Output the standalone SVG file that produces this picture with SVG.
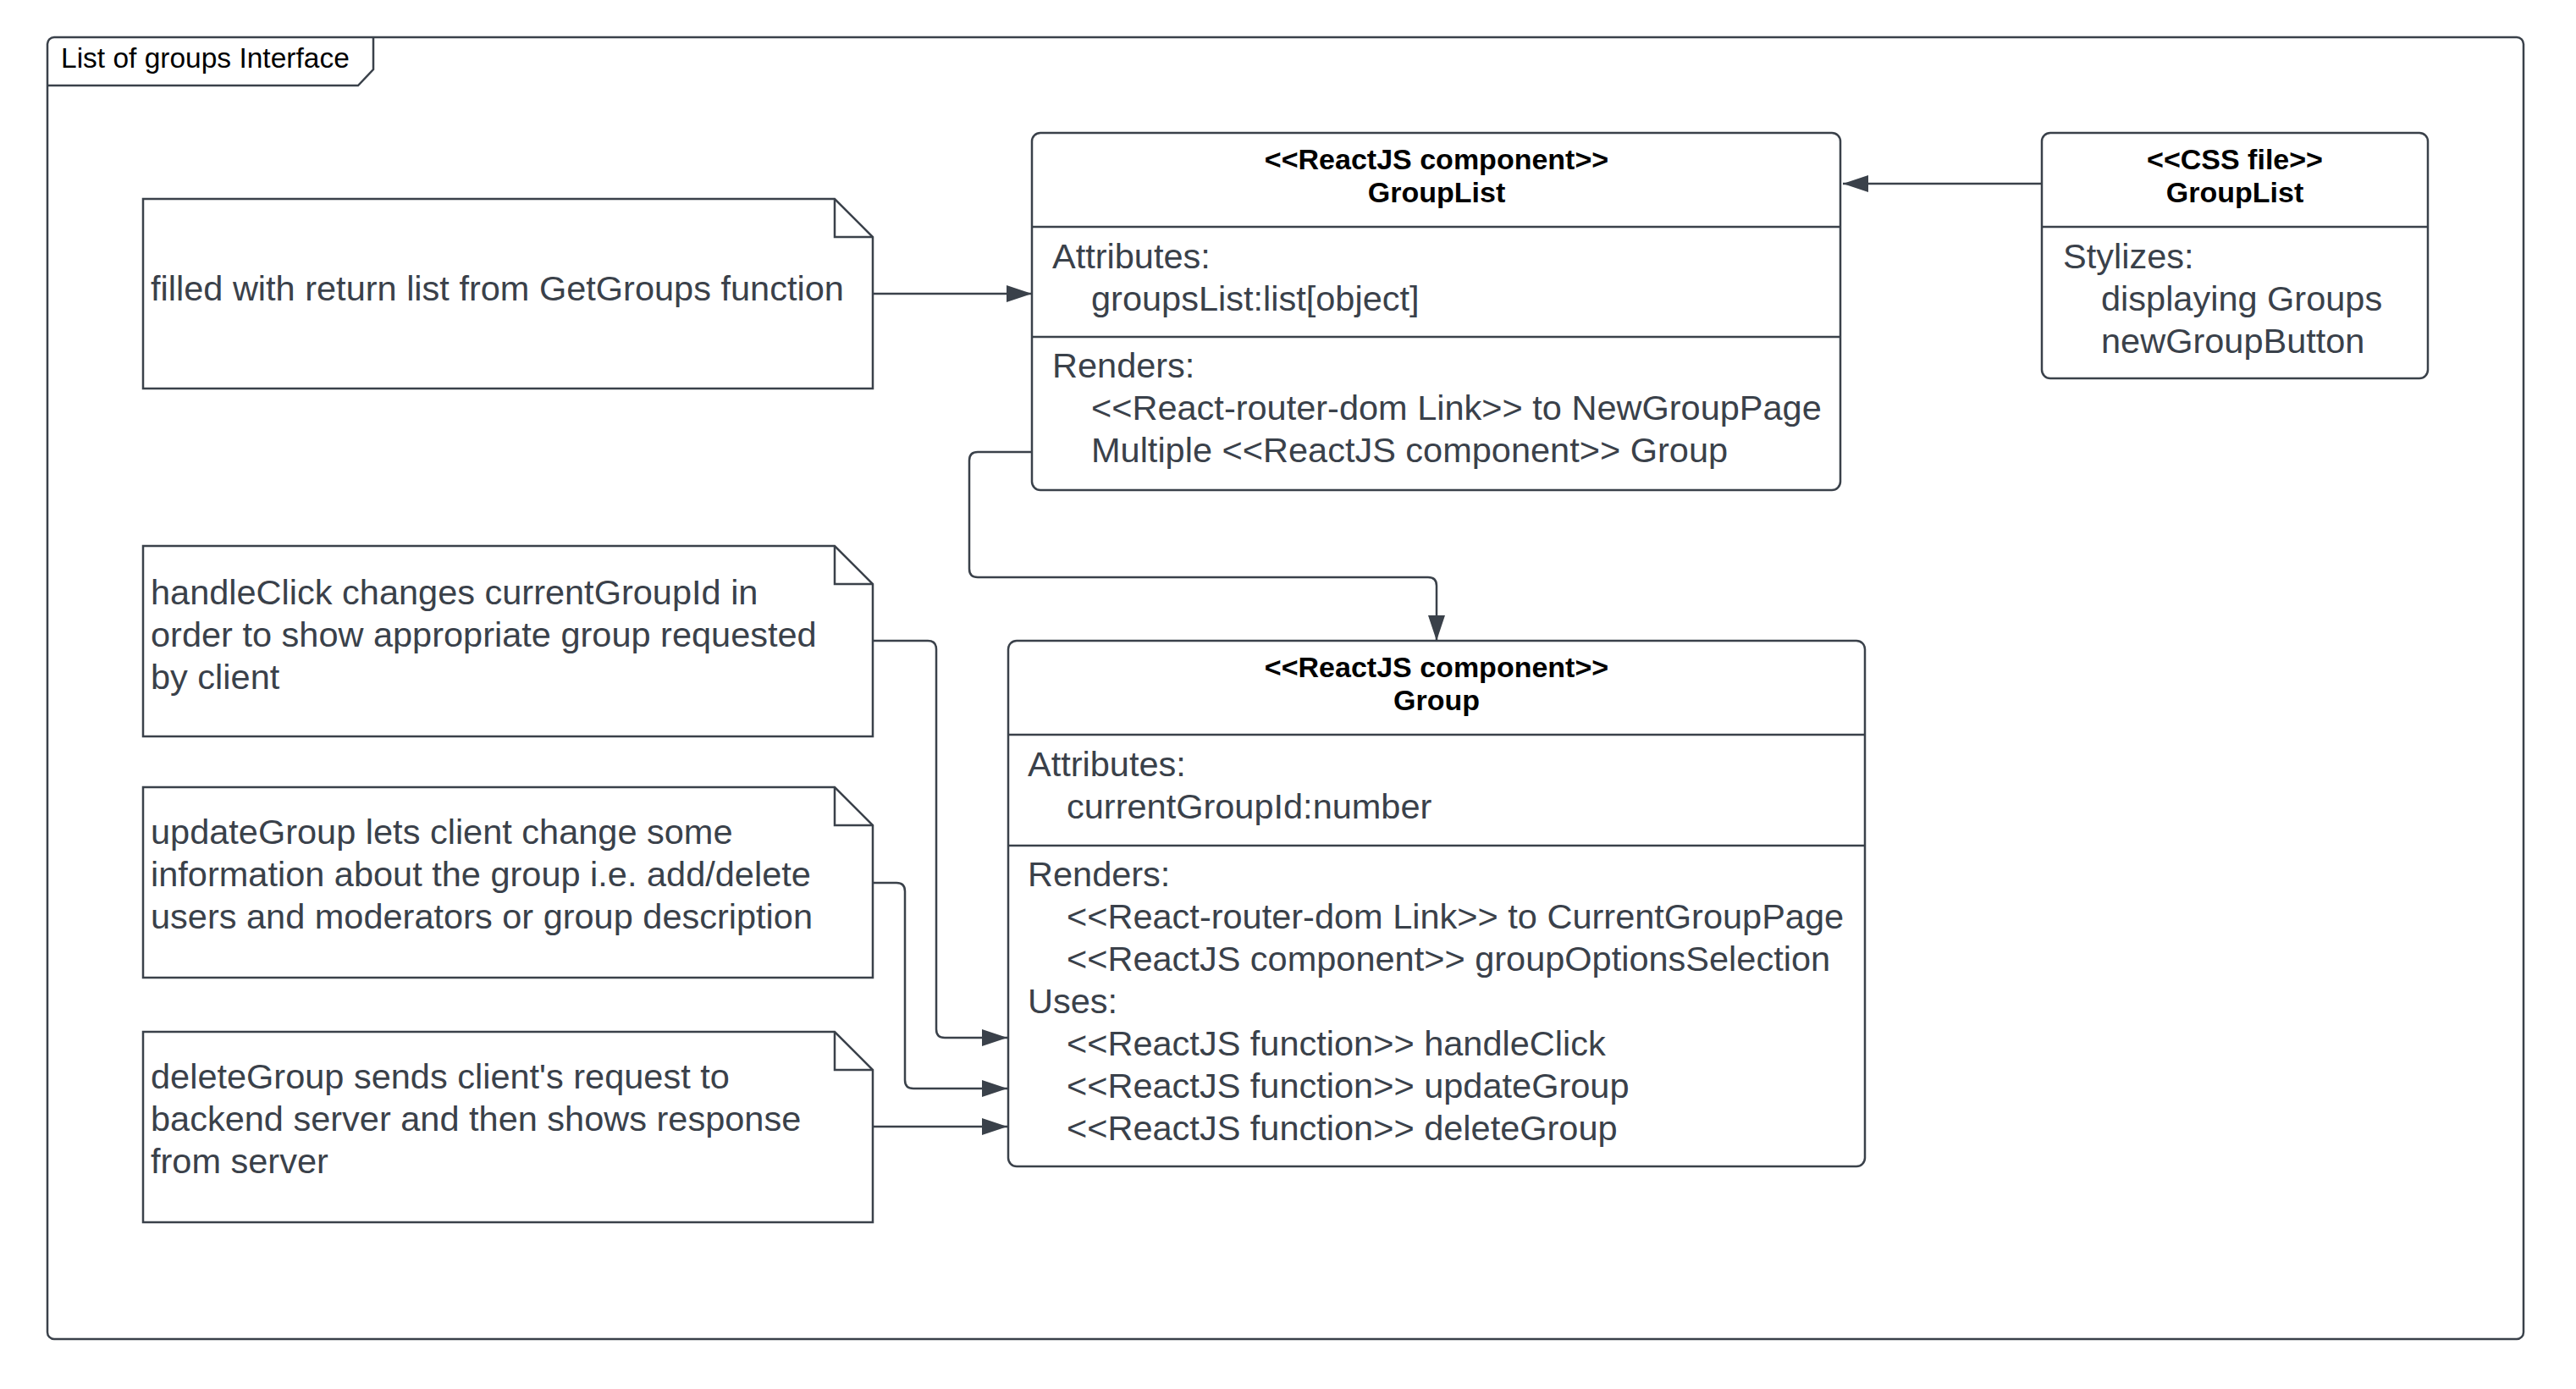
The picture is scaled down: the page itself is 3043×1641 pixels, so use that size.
<svg xmlns="http://www.w3.org/2000/svg" width="3043" height="1641" viewBox="0 0 3043 1641">
<style>
  .ln { fill: none; stroke: #3a414a; stroke-width: 2.5; }
  .box { fill: #ffffff; stroke: #3a414a; stroke-width: 2.5; }
  .hd { font-family: "Liberation Sans", Arial, sans-serif; font-size: 34px; font-weight: bold; fill: #000000; text-anchor: middle; }
  .tx { font-family: "Liberation Sans", Arial, sans-serif; font-size: 41.5px; fill: #3a414a; }
  .ttl { font-family: "Liberation Sans", Arial, sans-serif; font-size: 33.5px; fill: #000000; }
</style>
<defs>
  <marker id="arr" markerWidth="30" markerHeight="20" refX="30" refY="10" orient="auto" markerUnits="userSpaceOnUse">
    <path d="M0,0 L30,10 L0,20 Z" fill="#3a414a"/>
  </marker>
</defs>
<rect width="3043" height="1641" fill="#ffffff"/>

<g id="frame">
  <rect class="ln" x="56" y="44" width="2925" height="1538" rx="8"/>
  <path class="ln" d="M56,101 L423,101 L441,82 L441,44"/>
  <text class="ttl" x="72" y="80">List of groups Interface</text>
</g>

<g id="note-getgroups">
  <path class="box" d="M169,235 L986,235 L1031,280 L1031,459 L169,459 Z"/>
  <path class="ln" d="M986,235 L986,280 L1031,280"/>
  <text class="tx" x="178" y="355">filled with return list from GetGroups function</text>
</g>

<g id="note-handleclick">
  <path class="box" d="M169,645 L986,645 L1031,690 L1031,870 L169,870 Z"/>
  <path class="ln" d="M986,645 L986,690 L1031,690"/>
  <text class="tx" x="178" y="714">handleClick changes currentGroupId in</text>
  <text class="tx" x="178" y="764">order to show appropriate group requested</text>
  <text class="tx" x="178" y="814">by client</text>
</g>

<g id="note-updategroup">
  <path class="box" d="M169,930 L986,930 L1031,975 L1031,1155 L169,1155 Z"/>
  <path class="ln" d="M986,930 L986,975 L1031,975"/>
  <text class="tx" x="178" y="997">updateGroup lets client change some</text>
  <text class="tx" x="178" y="1047">information about the group i.e. add/delete</text>
  <text class="tx" x="178" y="1097">users and moderators or group description</text>
</g>

<g id="note-deletegroup">
  <path class="box" d="M169,1219 L986,1219 L1031,1264 L1031,1444 L169,1444 Z"/>
  <path class="ln" d="M986,1219 L986,1264 L1031,1264"/>
  <text class="tx" x="178" y="1286">deleteGroup sends client's request to</text>
  <text class="tx" x="178" y="1336">backend server and then shows response</text>
  <text class="tx" x="178" y="1386">from server</text>
</g>

<g id="class-grouplist">
  <rect class="box" x="1219" y="157" width="955" height="422" rx="10"/>
  <line class="ln" x1="1219" y1="268" x2="2174" y2="268"/>
  <line class="ln" x1="1219" y1="398" x2="2174" y2="398"/>
  <text class="hd" x="1697" y="200">&lt;&lt;ReactJS component&gt;&gt;</text>
  <text class="hd" x="1697" y="239">GroupList</text>
  <text class="tx" x="1243" y="317">Attributes:</text>
  <text class="tx" x="1289" y="367">groupsList:list[object]</text>
  <text class="tx" x="1243" y="446">Renders:</text>
  <text class="tx" x="1289" y="496">&lt;&lt;React-router-dom Link&gt;&gt; to NewGroupPage</text>
  <text class="tx" x="1289" y="546">Multiple &lt;&lt;ReactJS component&gt;&gt; Group</text>
</g>

<g id="class-css-grouplist">
  <rect class="box" x="2412" y="157" width="456" height="290" rx="10"/>
  <line class="ln" x1="2412" y1="268" x2="2868" y2="268"/>
  <text class="hd" x="2640" y="200">&lt;&lt;CSS file&gt;&gt;</text>
  <text class="hd" x="2640" y="239">GroupList</text>
  <text class="tx" x="2437" y="317">Stylizes:</text>
  <text class="tx" x="2482" y="367">displaying Groups</text>
  <text class="tx" x="2482" y="417">newGroupButton</text>
</g>

<g id="class-group">
  <rect class="box" x="1191" y="757" width="1012" height="621" rx="10"/>
  <line class="ln" x1="1191" y1="868" x2="2203" y2="868"/>
  <line class="ln" x1="1191" y1="999" x2="2203" y2="999"/>
  <text class="hd" x="1697" y="800">&lt;&lt;ReactJS component&gt;&gt;</text>
  <text class="hd" x="1697" y="839">Group</text>
  <text class="tx" x="1214" y="917">Attributes:</text>
  <text class="tx" x="1260" y="967">currentGroupId:number</text>
  <text class="tx" x="1214" y="1047">Renders:</text>
  <text class="tx" x="1260" y="1097">&lt;&lt;React-router-dom Link&gt;&gt; to CurrentGroupPage</text>
  <text class="tx" x="1260" y="1147">&lt;&lt;ReactJS component&gt;&gt; groupOptionsSelection</text>
  <text class="tx" x="1214" y="1197">Uses:</text>
  <text class="tx" x="1260" y="1247">&lt;&lt;ReactJS function&gt;&gt; handleClick</text>
  <text class="tx" x="1260" y="1297">&lt;&lt;ReactJS function&gt;&gt; updateGroup</text>
  <text class="tx" x="1260" y="1347">&lt;&lt;ReactJS function&gt;&gt; deleteGroup</text>
</g>

<g id="connectors">
  <path class="ln" d="M2412,217 L2177,217" marker-end="url(#arr)"/>
  <path class="ln" d="M1031,347 L1219,347" marker-end="url(#arr)"/>
  <path class="ln" d="M1219,534 L1155,534 Q1145,534 1145,544 L1145,672 Q1145,682 1155,682 L1687,682 Q1697,682 1697,692 L1697,757" marker-end="url(#arr)"/>
  <path class="ln" d="M1031,757 L1096,757 Q1106,757 1106,767 L1106,1216 Q1106,1226 1116,1226 L1190,1226" marker-end="url(#arr)"/>
  <path class="ln" d="M1031,1043 L1059,1043 Q1069,1043 1069,1053 L1069,1276 Q1069,1286 1079,1286 L1190,1286" marker-end="url(#arr)"/>
  <path class="ln" d="M1031,1331 L1190,1331" marker-end="url(#arr)"/>
</g>
</svg>
